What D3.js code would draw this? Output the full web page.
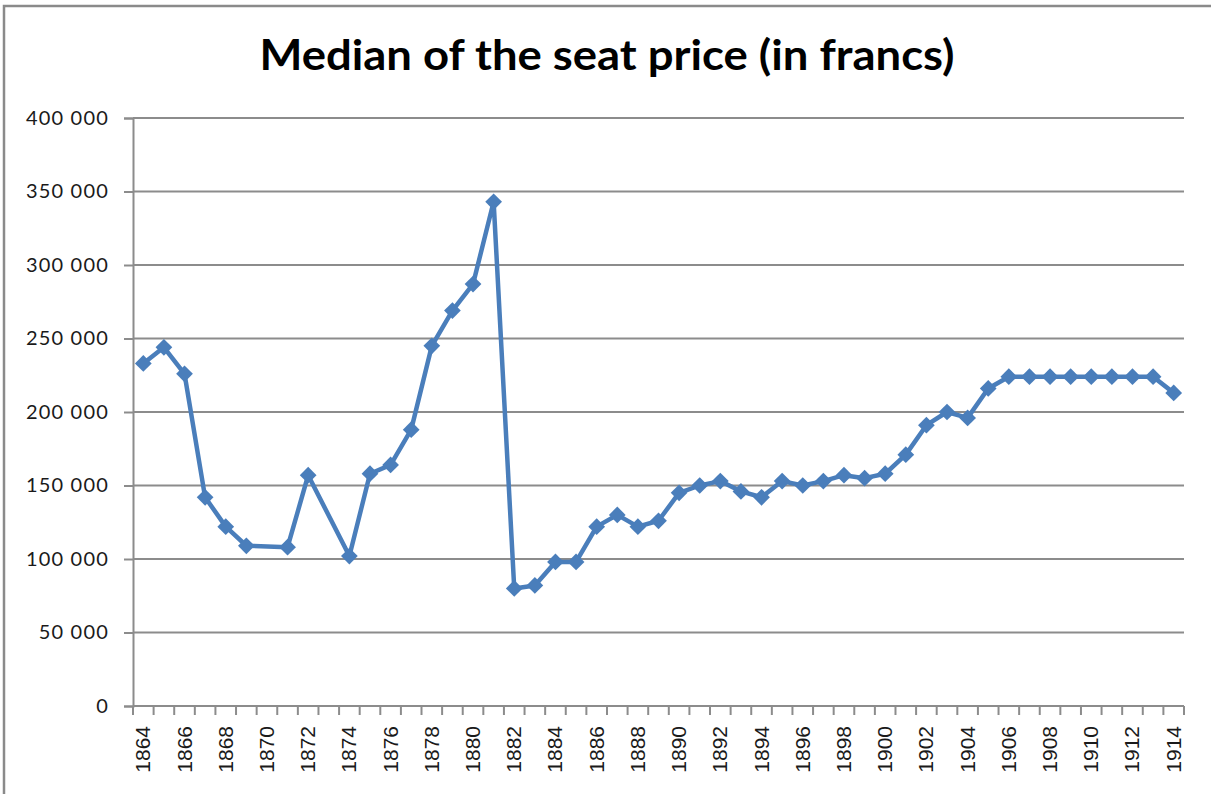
<!DOCTYPE html>
<html>
<head>
<meta charset="utf-8">
<script src="https://cdn.jsdelivr.net/npm/d3@7"></script>
<style>
  body { margin: 0; background: #fff; }
  .title { font-family: Lato, "Open Sans", sans-serif; font-weight: 700; font-size: 42px; fill: #000; }
  .ylabel { font-family: Lato, "Liberation Sans", sans-serif; font-size: 20px; fill: #1a1a1a; letter-spacing: 1.2px; }
  .xlabel { font-family: "Liberation Sans", Arial, sans-serif; font-size: 21px; fill: #1a1a1a; }
</style>
</head>
<body>
<svg id="chart" width="1211" height="794"></svg>
<script>
// years on the category axis, null = no value that year
var years = d3.range(1864, 1915);
var prices = [
  233000, 244000, 226000, 142000, 122000, 109000, null, 108000, 157000, null,
  102000, 158000, 164000, 188000, 245000, 269000, 287000, 343000, 80000, 82000,
  98000, 98000, 122000, 130000, 122000, 126000, 145000, 150000, 153000, 146000,
  142000, 153000, 150000, 153000, 157000, 155000, 158000, 171000, 191000, 200000,
  196000, 216000, 224000, 224000, 224000, 224000, 224000, 224000, 224000, 224000,
  213000
];
var yTicks = [0, 50000, 100000, 150000, 200000, 250000, 300000, 350000, 400000];
var xLabelYears = years.filter(function(d) { return (d - 1864) % 2 === 0; });
var titleText = "Median of the seat price (in francs)";

var plotLeft = 133, plotRight = 1184, plotTop = 118, plotBottom = 706;
var lineColor = "#4a7ebb";
var gridColor = "#8c8c8c";

var svg = d3.select("#chart");

var fmt = d3.formatLocale({decimal: ".", thousands: " ", grouping: [3], currency: ["", ""]}).format(",");

// outer frame (runs off the right and bottom of the picture)
svg.append("rect")
  .attr("x", 4).attr("y", 6)
  .attr("width", 1240).attr("height", 820)
  .attr("fill", "none")
  .attr("stroke", "#8a8a8a")
  .attr("stroke-width", 2.5)
  ;

svg.append("text")
  .attr("class", "title")
  .attr("x", 607)
  .attr("y", 70)
  .attr("text-anchor", "middle")
  .attr("textLength", 695)
  .attr("lengthAdjust", "spacingAndGlyphs")
  .text(titleText)
  ;

var x = d3.scaleBand()
  .domain(years)
  .range([plotLeft, plotRight])
  .padding(0)
  ;

var y = d3.scaleLinear()
  .domain([0, 400000])
  .range([plotBottom, plotTop])
  ;

// horizontal grid lines
svg.append("g")
  .selectAll("line.grid")
  .data(yTicks.slice(1))
  .enter()
  .append("line")
  .attr("class", "grid")
  .attr("x1", plotLeft).attr("x2", plotRight)
  .attr("y1", function(d) { return y(d); })
  .attr("y2", function(d) { return y(d); })
  .attr("stroke", gridColor)
  .attr("stroke-width", 2)
  ;

// y axis
var yAxis = svg.append("g")
  .attr("transform", "translate(" + plotLeft + ",0)")
  .call(d3.axisLeft(y).tickValues(yTicks).tickFormat(fmt).tickSize(9).tickPadding(15))
  ;
yAxis.select(".domain").attr("stroke", gridColor).attr("stroke-width", 2);
yAxis.selectAll(".tick line").attr("stroke", gridColor).attr("stroke-width", 2);
yAxis.selectAll(".tick text")
  .attr("class", "ylabel")
  .attr("fill", null)
  .attr("font-family", null)
  .attr("font-size", null)
  ;

// x axis: line, ticks on category boundaries, labels every other year
var xg = svg.append("g");

xg.append("line")
  .attr("x1", plotLeft).attr("x2", plotRight)
  .attr("y1", plotBottom).attr("y2", plotBottom)
  .attr("stroke", gridColor)
  .attr("stroke-width", 2)
  ;

xg.selectAll("line.xtick")
  .data(years.concat([null]))
  .enter()
  .append("line")
  .attr("class", "xtick")
  .attr("x1", function(d, i) { return plotLeft + i * x.bandwidth(); })
  .attr("x2", function(d, i) { return plotLeft + i * x.bandwidth(); })
  .attr("y1", plotBottom)
  .attr("y2", plotBottom + 9)
  .attr("stroke", gridColor)
  .attr("stroke-width", 2)
  ;

xg.selectAll("text.xlabel")
  .data(xLabelYears)
  .enter()
  .append("text")
  .attr("class", "xlabel")
  .attr("text-anchor", "end")
  .attr("transform", function(d) {
    var cx = x(d) + x.bandwidth() / 2 + 7;
    return "translate(" + cx + "," + (plotBottom + 20) + ") rotate(-90)";
  })
  .text(function(d) { return d; })
  ;

// series
var pts = years
  .map(function(d, i) { return {year: d, value: prices[i]}; })
  .filter(function(d) { return d.value !== null; })
  ;

var line = d3.line()
  .x(function(d) { return x(d.year) + x.bandwidth() / 2; })
  .y(function(d) { return y(d.value); })
  ;

svg.append("path")
  .datum(pts)
  .attr("d", line)
  .attr("fill", "none")
  .attr("stroke", lineColor)
  .attr("stroke-width", 4.5)
  .attr("stroke-linejoin", "round")
  ;

svg.append("g")
  .selectAll("path.marker")
  .data(pts)
  .enter()
  .append("path")
  .attr("class", "marker")
  .attr("d", d3.symbol(d3.symbolSquare, 140))
  .attr("transform", function(d) {
    return "translate(" + (x(d.year) + x.bandwidth() / 2) + "," + y(d.value) + ") rotate(45)";
  })
  .attr("fill", lineColor)
  ;
</script>
</body>
</html>
